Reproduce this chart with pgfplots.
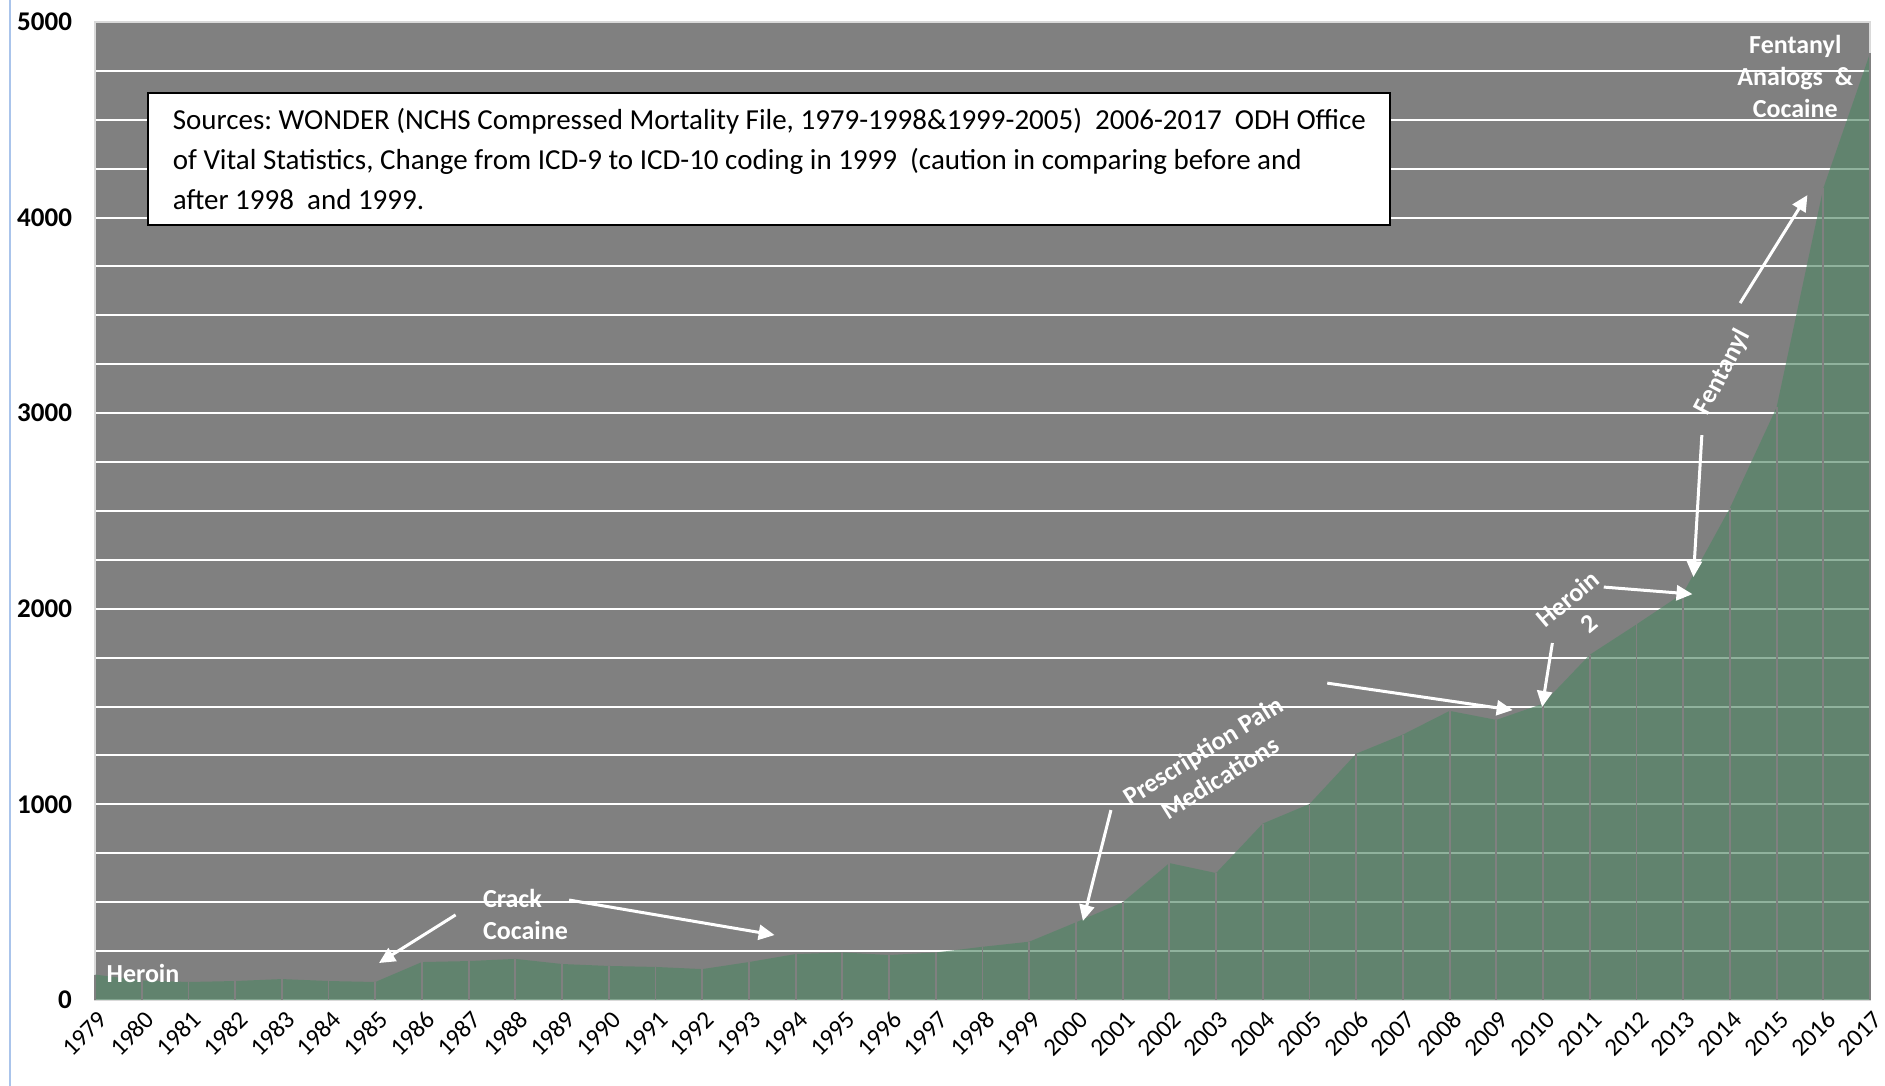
\documentclass[border=0pt]{standalone}
\usepackage{pgfplots}
\pgfplotsset{compat=1.18}
\usepackage{fontspec}
\setmainfont{Carlito}
\usetikzlibrary{arrows.meta}
\frenchspacing

\definecolor{plotgray}{RGB}{128,128,128}
\definecolor{areagreen}{RGB}{80,134,101}
\definecolor{framegray}{RGB}{217,217,217}
\definecolor{edgeblue}{RGB}{170,196,235}

% deaths per year
\pgfplotstableread{
year deaths
1979 130
1980 100
1981 92
1982 97
1983 107
1984 97
1985 92
1986 194
1987 199
1988 210
1989 184
1990 174
1991 169
1992 158
1993 194
1994 235
1995 243
1996 230
1997 243
1998 272
1999 298
2000 397
2001 499
2002 700
2003 649
2004 902
2005 1002
2006 1259
2007 1357
2008 1478
2009 1432
2010 1515
2011 1765
2012 1920
2013 2080
2014 2515
2015 3030
2016 4150
2017 4840
}\deaths

\tikzset{
  note/.style={text=white, font=\bfseries\fontsize{13}{16}\selectfont, inner sep=0pt},
  arr/.style={draw=white, line width=1.5pt, -{Triangle[length=8pt,width=7.5pt]}}
}

\begin{document}
\begin{tikzpicture}
\begin{axis}[
  scale only axis,
  width=887.5pt, height=489pt,
  xmin=1979, xmax=2017, ymin=0, ymax=5000,
  axis background/.style={fill=plotgray},
  axis line style={draw=framegray, line width=0.6pt},
  tick style={draw=none},
  xtick={1979,1980,...,2017},
  ytick={0,1000,...,5000},
  minor ytick={250,500,...,4750},
  ymajorgrids, yminorgrids,
  major grid style={draw=white, line width=1pt},
  minor grid style={draw=white, line width=1pt},
  /pgf/number format/1000 sep={},
  /pgf/number format/assume math mode=true,
  xticklabel style={rotate=45, anchor=north east, font=\fontsize{12.5}{14}\selectfont, inner sep=1pt, yshift=-3pt, xshift=-1.5pt},
  yticklabel style={font=\bfseries\fontsize{13.5}{15}\selectfont, xshift=-8pt},
  clip=false,
]
\addplot[fill=areagreen, fill opacity=0.63, draw=none] table[x=year, y=deaths] {\deaths} \closedcycle;
\addplot[ycomb, draw=plotgray, line width=0.9pt] table[x=year, y=deaths] {\deaths};

% source box
\node[draw=black, line width=1pt, fill=white, text=black, anchor=north west,
  minimum width=621pt, minimum height=66pt, align=left,
  font=\fontsize{14.5}{20}\selectfont]
  at (axis cs:1980.12,4642)
  {Sources: WONDER (NCHS Compressed Mortality File, 1979-1998\&1999-2005)~~2006-2017~~ODH Office\\
   of Vital Statistics, Change from ICD-9 to ICD-10 coding in 1999~~(caution in comparing before and\\
   after 1998~~and 1999.};

% annotations
\node[note, anchor=west] at (axis cs:1979.24,135) {Heroin};
\draw[arr] (axis cs:1986.72,435) -- (axis cs:1985.08,189);
\node[note, anchor=west, align=left] at (axis cs:1987.3,435) {Crack\\Cocaine};
\draw[arr] (axis cs:1989.15,511) -- (axis cs:1993.55,332);
\node[note, align=center, rotate=32] at (axis cs:2002.9,1205) {Prescription Pain\\Medications};
\draw[arr] (axis cs:2000.75,971) -- (axis cs:2000.15,404);
\draw[arr] (axis cs:2005.38,1620) -- (axis cs:2009.35,1482);
\node[note, align=center, rotate=40] at (axis cs:2010.75,1990) {Heroin\\2};
\draw[arr] (axis cs:2010.2,1825) -- (axis cs:2009.98,1498);
\draw[arr] (axis cs:2011.3,2111) -- (axis cs:2013.2,2075);
\draw[arr] (axis cs:2013.4,2888) -- (axis cs:2013.22,2162);
\node[note, rotate=62] at (axis cs:2013.85,3210) {Fentanyl};
\draw[arr] (axis cs:2014.22,3563) -- (axis cs:2015.66,4115);
\node[note, align=center] at (axis cs:2015.4,4720) {Fentanyl\\Analogs~~\&\\Cocaine};
\end{axis}
\draw[edgeblue, line width=1pt] ([shift={(-42.5pt,11pt)}]current axis.north west) -- ([shift={(-42.5pt,-43pt)}]current axis.south west);
\pgfresetboundingbox
\path[use as bounding box] ([shift={(-47.5pt,-43pt)}]current axis.south west) rectangle ([shift={(7.5pt,11pt)}]current axis.north east);
\end{tikzpicture}
\end{document}
